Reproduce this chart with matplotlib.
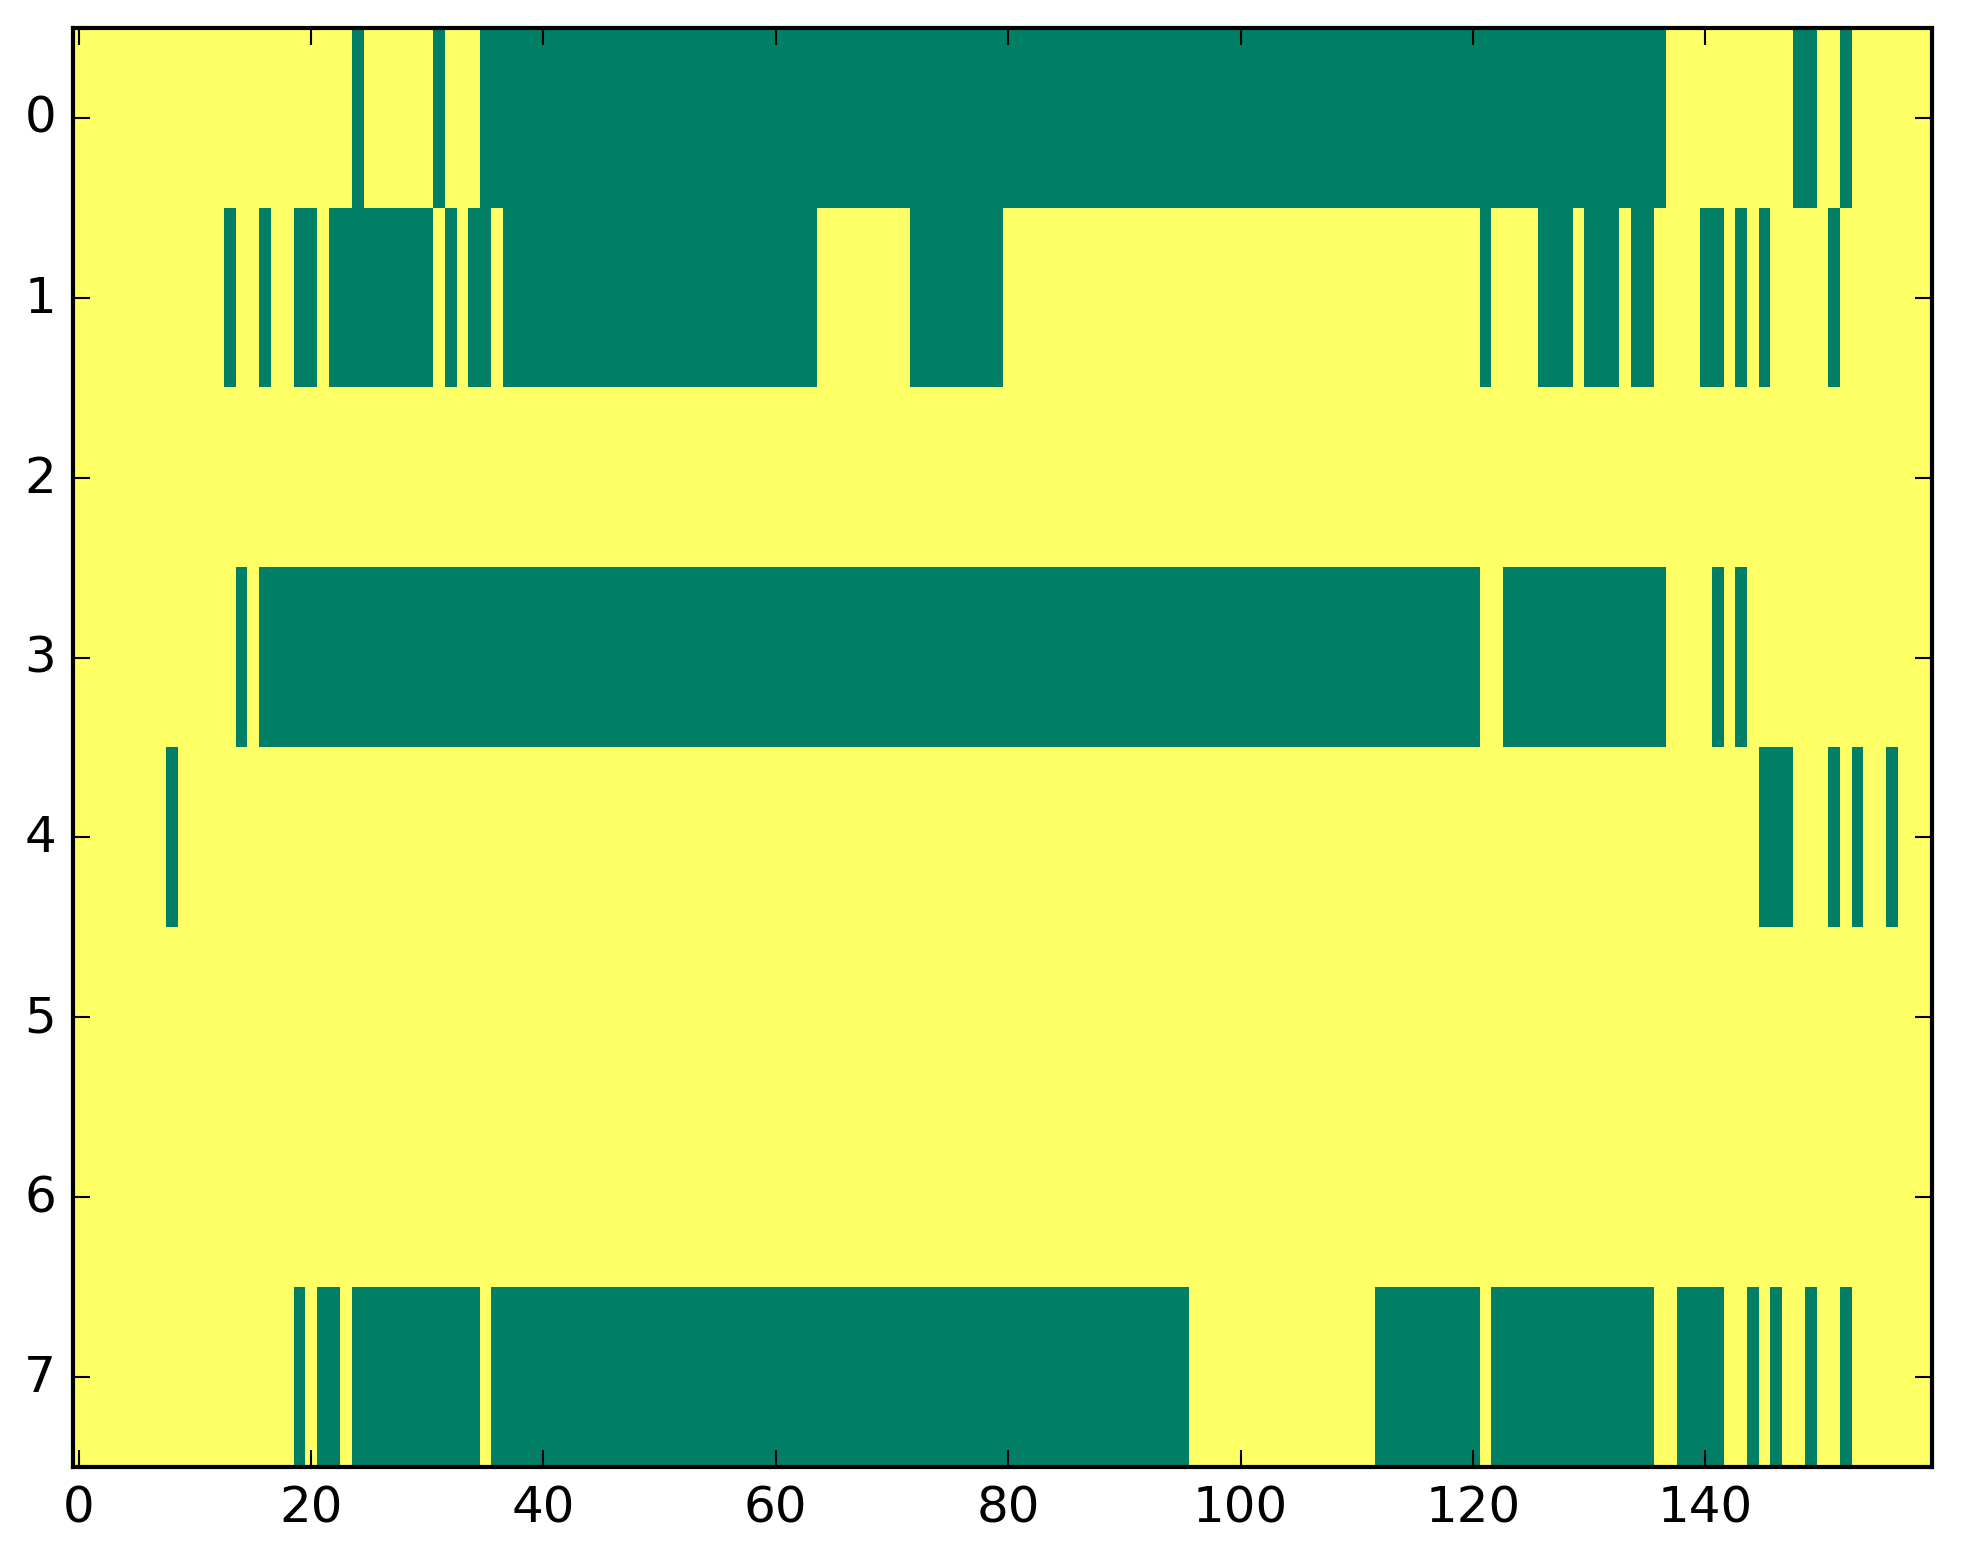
import numpy as np
import matplotlib
matplotlib.use("Agg")
import matplotlib.pyplot as plt

plt.style.use("classic")

n_cols = 160
# Runs of zero-valued (green) cells per row: (first column, last column) inclusive
row0_zero = [(24, 24), (31, 31), (35, 136), (148, 149), (152, 152)]
row1_zero = [(13, 13), (16, 16), (19, 20), (22, 30), (32, 32), (34, 35), (37, 63),
             (72, 79), (121, 121), (126, 128), (130, 132), (134, 135), (140, 141),
             (143, 143), (145, 145), (151, 151)]
row2_zero = []
row3_zero = [(14, 14), (16, 120), (123, 136), (141, 141), (143, 143)]
row4_zero = [(8, 8), (145, 147), (151, 151), (153, 153), (156, 156)]
row5_zero = []
row6_zero = []
row7_zero = [(19, 19), (21, 22), (24, 34), (36, 95), (112, 120), (122, 135),
             (138, 141), (144, 144), (146, 146), (149, 149), (152, 152)]

rows = [row0_zero, row1_zero, row2_zero, row3_zero, row4_zero, row5_zero, row6_zero, row7_zero]
data = np.ones((len(rows), n_cols))
for r, runs in enumerate(rows):
    for a, b in runs:
        data[r, a:b + 1] = 0

W, H = 1963, 1564
fig = plt.figure(figsize=(W / 300, H / 300), dpi=300)
ax = fig.add_axes([72.7 / W, (H - 1468) / H, (1932 - 72.7) / W, (1468 - 29) / H])
ax.imshow(data, cmap="summer", aspect="auto", interpolation="nearest", vmin=0, vmax=1)
ax.set_xticks([0, 20, 40, 60, 80, 100, 120, 140])
ax.set_yticks(range(8))
ax.set_xlim(-0.5, n_cols - 0.5)
ax.set_ylim(len(rows) - 0.5, -0.5)
fig.savefig("out.png", dpi=300)
